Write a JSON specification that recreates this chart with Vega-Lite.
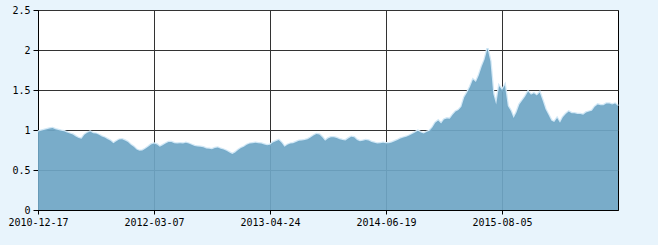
{
"$schema": "https://vega.github.io/schema/vega-lite/v6.json",
"width": 580,
"height": 200,
"autosize": {"type": "none"},
"padding": {"left": 38, "top": 10, "right": 40, "bottom": 35},
"background": "#E8F4FC",
"config": {
  "view": {"fill": "white", "stroke": "#000", "strokeWidth": 1},
  "axis": {"labelFont": "DejaVu Sans Mono", "labelFontSize": 10, "labelColor": "#000", "domainColor": "#000", "tickColor": "#000", "gridColor": "#333", "gridOpacity": 1, "gridWidth": 1, "title": null}
},
"data": {"values": [
{"d":"2010-12-17","v":0.98},{"d":"2010-12-28","v":0.99},{"d":"2011-01-10","v":1.0},{"d":"2011-01-21","v":1.01},{"d":"2011-02-01","v":1.02},
{"d":"2011-02-14","v":1.025},{"d":"2011-02-25","v":1.01},{"d":"2011-03-08","v":1.0},{"d":"2011-03-21","v":0.99},{"d":"2011-04-01","v":0.985},
{"d":"2011-04-12","v":0.97},{"d":"2011-04-25","v":0.955},{"d":"2011-05-06","v":0.945},{"d":"2011-05-17","v":0.92},{"d":"2011-05-30","v":0.9},
{"d":"2011-06-10","v":0.89},{"d":"2011-06-21","v":0.94},{"d":"2011-07-04","v":0.965},{"d":"2011-07-15","v":0.98},{"d":"2011-07-26","v":0.96},
{"d":"2011-08-08","v":0.955},{"d":"2011-08-19","v":0.94},{"d":"2011-08-30","v":0.92},{"d":"2011-09-12","v":0.905},{"d":"2011-09-23","v":0.885},
{"d":"2011-10-04","v":0.865},{"d":"2011-10-17","v":0.835},{"d":"2011-10-28","v":0.86},{"d":"2011-11-08","v":0.88},{"d":"2011-11-21","v":0.885},
{"d":"2011-12-02","v":0.87},{"d":"2011-12-13","v":0.85},{"d":"2011-12-26","v":0.815},{"d":"2012-01-06","v":0.79},{"d":"2012-01-17","v":0.755},
{"d":"2012-01-30","v":0.74},{"d":"2012-02-06","v":0.745},{"d":"2012-02-14","v":0.765},{"d":"2012-02-22","v":0.79},{"d":"2012-02-29","v":0.82},
{"d":"2012-03-07","v":0.83},{"d":"2012-03-19","v":0.82},{"d":"2012-03-29","v":0.79},{"d":"2012-04-09","v":0.81},{"d":"2012-04-19","v":0.83},
{"d":"2012-05-02","v":0.85},{"d":"2012-05-11","v":0.85},{"d":"2012-05-22","v":0.835},{"d":"2012-06-01","v":0.83},{"d":"2012-06-12","v":0.835},
{"d":"2012-06-22","v":0.83},{"d":"2012-07-03","v":0.84},{"d":"2012-07-13","v":0.83},{"d":"2012-07-24","v":0.815},{"d":"2012-08-03","v":0.8},
{"d":"2012-08-14","v":0.795},{"d":"2012-08-24","v":0.79},{"d":"2012-09-04","v":0.785},{"d":"2012-09-14","v":0.77},{"d":"2012-09-25","v":0.765},
{"d":"2012-10-12","v":0.76},{"d":"2012-10-23","v":0.775},{"d":"2012-11-02","v":0.78},{"d":"2012-11-13","v":0.765},{"d":"2012-11-23","v":0.755},
{"d":"2012-12-04","v":0.74},{"d":"2012-12-14","v":0.72},{"d":"2012-12-25","v":0.7},{"d":"2013-01-07","v":0.72},{"d":"2013-01-17","v":0.75},
{"d":"2013-01-28","v":0.775},{"d":"2013-02-07","v":0.79},{"d":"2013-02-25","v":0.815},{"d":"2013-03-07","v":0.83},{"d":"2013-03-18","v":0.835},
{"d":"2013-03-28","v":0.84},{"d":"2013-04-03","v":0.835},{"d":"2013-04-10","v":0.83},{"d":"2013-04-16","v":0.82},{"d":"2013-04-19","v":0.81},
{"d":"2013-04-24","v":0.815},{"d":"2013-05-06","v":0.845},{"d":"2013-05-16","v":0.86},{"d":"2013-05-27","v":0.875},{"d":"2013-06-06","v":0.84},
{"d":"2013-06-19","v":0.79},{"d":"2013-06-28","v":0.815},{"d":"2013-07-09","v":0.83},{"d":"2013-07-19","v":0.835},{"d":"2013-07-30","v":0.85},
{"d":"2013-08-09","v":0.865},{"d":"2013-08-20","v":0.87},{"d":"2013-08-30","v":0.875},{"d":"2013-09-10","v":0.885},{"d":"2013-09-23","v":0.905},
{"d":"2013-10-11","v":0.93},{"d":"2013-10-22","v":0.95},{"d":"2013-11-01","v":0.945},{"d":"2013-11-12","v":0.91},{"d":"2013-11-22","v":0.865},
{"d":"2013-12-03","v":0.895},{"d":"2013-12-13","v":0.91},{"d":"2013-12-24","v":0.91},{"d":"2014-01-06","v":0.9},{"d":"2014-01-16","v":0.885},
{"d":"2014-01-27","v":0.875},{"d":"2014-02-13","v":0.87},{"d":"2014-02-24","v":0.895},{"d":"2014-03-06","v":0.915},{"d":"2014-03-17","v":0.91},
{"d":"2014-03-27","v":0.875},{"d":"2014-04-08","v":0.86},{"d":"2014-04-18","v":0.865},{"d":"2014-04-29","v":0.875},{"d":"2014-05-12","v":0.87},
{"d":"2014-05-22","v":0.85},{"d":"2014-05-30","v":0.84},{"d":"2014-06-06","v":0.83},{"d":"2014-06-12","v":0.835},{"d":"2014-06-16","v":0.84},
{"d":"2014-06-19","v":0.835},{"d":"2014-06-30","v":0.835},{"d":"2014-07-10","v":0.845},{"d":"2014-07-21","v":0.86},{"d":"2014-07-31","v":0.875},
{"d":"2014-08-11","v":0.895},{"d":"2014-08-21","v":0.905},{"d":"2014-09-01","v":0.915},{"d":"2014-09-11","v":0.93},{"d":"2014-09-22","v":0.95},
{"d":"2014-10-09","v":0.97},{"d":"2014-10-20","v":0.99},{"d":"2014-10-30","v":0.97},{"d":"2014-11-10","v":0.955},{"d":"2014-11-20","v":0.975},
{"d":"2014-12-01","v":0.99},{"d":"2014-12-11","v":1.03},{"d":"2014-12-22","v":1.09},{"d":"2015-01-05","v":1.12},{"d":"2015-01-15","v":1.08},
{"d":"2015-01-26","v":1.13},{"d":"2015-02-05","v":1.145},{"d":"2015-02-16","v":1.14},{"d":"2015-03-05","v":1.19},{"d":"2015-03-16","v":1.23},
{"d":"2015-03-26","v":1.25},{"d":"2015-04-07","v":1.29},{"d":"2015-04-17","v":1.41},{"d":"2015-04-28","v":1.47},{"d":"2015-05-11","v":1.54},
{"d":"2015-05-21","v":1.63},{"d":"2015-06-01","v":1.6},{"d":"2015-06-11","v":1.68},{"d":"2015-06-24","v":1.79},{"d":"2015-07-03","v":1.88},
{"d":"2015-07-14","v":2.02},{"d":"2015-07-21","v":1.86},{"d":"2015-07-27","v":1.45},{"d":"2015-07-30","v":1.32},{"d":"2015-08-03","v":1.55},
{"d":"2015-08-05","v":1.5},{"d":"2015-08-17","v":1.56},{"d":"2015-08-27","v":1.3},{"d":"2015-09-09","v":1.24},{"d":"2015-09-21","v":1.15},
{"d":"2015-10-09","v":1.22},{"d":"2015-10-20","v":1.32},{"d":"2015-10-30","v":1.37},{"d":"2015-11-10","v":1.42},{"d":"2015-11-20","v":1.48},
{"d":"2015-12-01","v":1.44},{"d":"2015-12-11","v":1.46},{"d":"2015-12-22","v":1.43},{"d":"2016-01-04","v":1.47},{"d":"2016-01-14","v":1.37},
{"d":"2016-01-25","v":1.26},{"d":"2016-02-04","v":1.19},{"d":"2016-02-22","v":1.12},{"d":"2016-03-03","v":1.1},{"d":"2016-03-14","v":1.15},
{"d":"2016-03-24","v":1.09},{"d":"2016-04-05","v":1.16},{"d":"2016-04-15","v":1.2},{"d":"2016-04-26","v":1.23},{"d":"2016-05-06","v":1.21},
{"d":"2016-05-17","v":1.21},{"d":"2016-05-27","v":1.2},{"d":"2016-06-08","v":1.2},{"d":"2016-06-20","v":1.19},{"d":"2016-06-30","v":1.22},
{"d":"2016-07-11","v":1.23},{"d":"2016-07-21","v":1.24},{"d":"2016-08-01","v":1.29},{"d":"2016-08-11","v":1.32},{"d":"2016-08-22","v":1.31},
{"d":"2016-09-01","v":1.31},{"d":"2016-09-12","v":1.33},{"d":"2016-09-22","v":1.33},{"d":"2016-10-11","v":1.32},{"d":"2016-10-21","v":1.33},
{"d":"2016-11-01","v":1.3}
]},
"encoding": {
  "x": {"field": "d", "type": "ordinal", "sort": "ascending", "scale": {"type": "point", "padding": 0},
        "axis": {"values": ["2010-12-17","2012-03-07","2013-04-24","2014-06-19","2015-08-05"], "labelAngle": 0, "labelOverlap": false, "grid": true, "tickSize": 4, "labelPadding": 3, "labelAlign": "center", "labelBound": false, "labelFlush": false}},
  "y": {"field": "v", "type": "quantitative", "scale": {"domain": [0, 2.5], "nice": false, "zero": true},
        "axis": {"values": [0, 0.5, 1, 1.5, 2, 2.5], "format": "~g", "grid": true, "tickSize": 5, "labelPadding": 3}}
},
"layer": [
  {"mark": {"type": "line", "color": "#D2E8F6", "strokeWidth": 2.5, "interpolate": "linear"}},
  {"mark": {"type": "area", "color": "#6FA6C5", "opacity": 0.93, "interpolate": "linear"}}
]
}
